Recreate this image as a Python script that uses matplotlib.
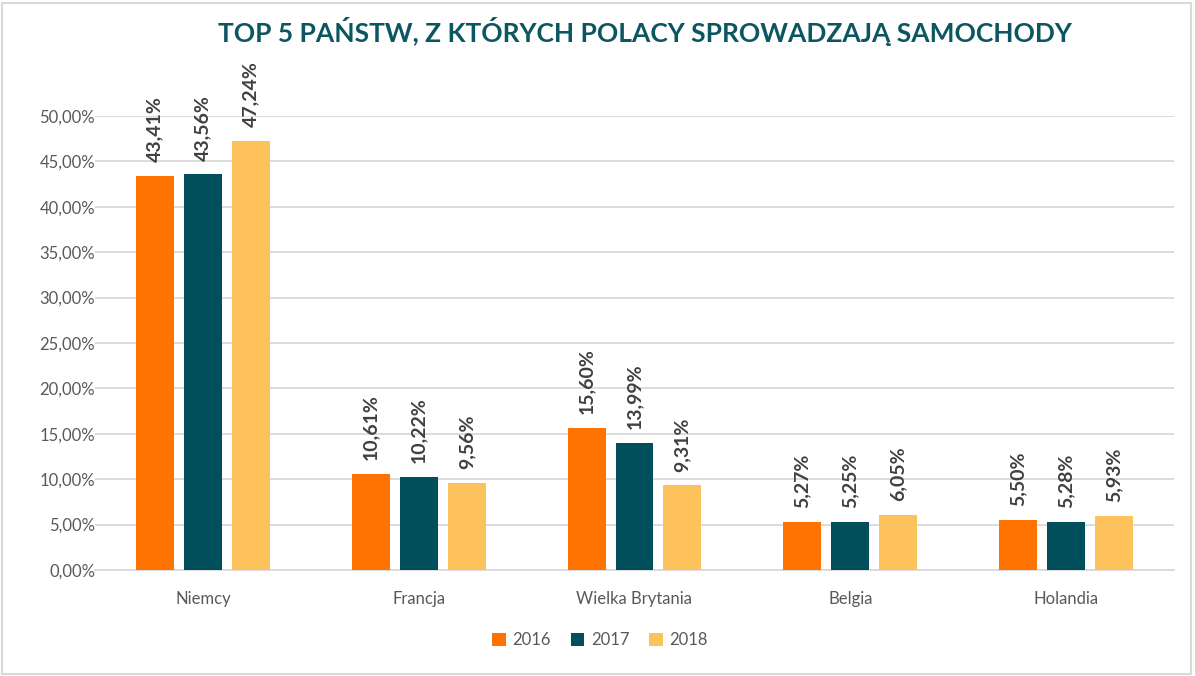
import numpy as np
import matplotlib
matplotlib.use("Agg")
import matplotlib.pyplot as plt
from matplotlib.patches import Rectangle

plt.rcParams['font.family'] = ['Lato', 'DejaVu Sans']

# dane
kraje = ["Niemcy", "Francja", "Wielka Brytania", "Belgia", "Holandia"]
lata = ["2016", "2017", "2018"]
v2016 = [43.41, 10.61, 15.60, 5.27, 5.50]
v2017 = [43.56, 10.22, 13.99, 5.25, 5.28]
v2018 = [47.24, 9.56, 9.31, 6.05, 5.93]
kolory = ["#FF7300", "#004F5A", "#FDC25B"]

fig = plt.figure(figsize=(11.95, 6.76), dpi=100)
ax = fig.add_axes([95/1195, 1-570/676, (1174-95)/1195, (570-116)/676])

x = np.arange(len(kraje))
szer = 0.176
krok = 0.222
serie = [v2016, v2017, v2018]
for i, (vals, kol, rok) in enumerate(zip(serie, kolory, lata)):
    pos = x + (i-1)*krok
    ax.bar(pos, vals, width=szer, color=kol, label=rok, zorder=3)
    for p, v in zip(pos, vals):
        lab = ("%.2f%%" % v).replace(".", ",")
        ax.annotate(lab, (p, v), xytext=(0, 10), textcoords="offset points",
                    rotation=90, ha="center", va="bottom", fontsize=14,
                    fontweight="bold", color="#404040", annotation_clip=False)

ax.set_xlim(-0.5, len(kraje)-0.5)
ax.set_ylim(0, 50)
ax.set_yticks(np.arange(0, 51, 5))
ax.set_yticklabels([("%.2f%%" % t).replace(".", ",") for t in np.arange(0, 51, 5)])
ax.set_xticks(x)
ax.set_xticklabels(kraje)
ax.tick_params(axis="both", length=0, labelsize=12, labelcolor="#595959")
ax.tick_params(axis="x", pad=15)
ax.tick_params(axis="y", pad=0)
ax.grid(axis="y", color="#D9D9D9", linewidth=1.3, zorder=0)
for s in ["top", "right", "left"]:
    ax.spines[s].set_visible(False)
ax.spines["bottom"].set_color("#D9D9D9")
ax.spines["bottom"].set_linewidth(1.3)

fig.text(645/1195, 1-32/676, "TOP 5 PAŃSTW, Z KTÓRYCH POLACY SPROWADZAJĄ SAMOCHODY",
         ha="center", va="center", fontsize=19, fontweight="bold", color="#0B5660")

fig.legend(loc="center", bbox_to_anchor=(600/1195, 1-640/676), ncol=3, frameon=False,
           fontsize=12, handlelength=0.8, handleheight=0.8, columnspacing=1.2,
           handletextpad=0.4, labelcolor="#595959")

fig.patches.append(Rectangle((0.002, 0.003), 0.995, 0.993, transform=fig.transFigure,
                             fill=False, edgecolor="#D9D9D9", linewidth=1.5))

fig.savefig("out.png", dpi=100, facecolor="white")
